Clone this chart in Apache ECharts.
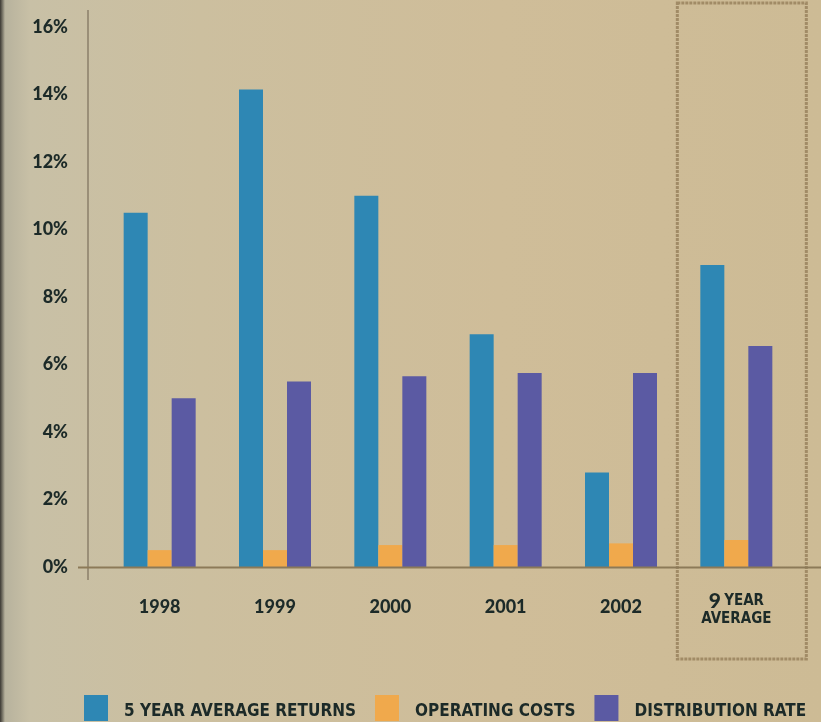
<!DOCTYPE html>
<html><head><meta charset="utf-8">
<script src="https://cdn.jsdelivr.net/npm/echarts@6/dist/echarts.min.js"></script>
<style>
html,body{margin:0;padding:0;width:821px;height:722px;overflow:hidden;
background:linear-gradient(90deg,#3a3832 0px,#b7b29d 5px,#c8c0a6 30px,#ccbf9f 200px,#cfbd99 500px,#cdbb95 821px);}
#c{width:821px;height:722px;}
</style></head><body>
<div id="c"></div>
<script>
const categories = ['1998','1999','2000','2001','2002','9 YEAR AVERAGE'];
const fiveYearReturns = [10.5, 14.15, 11.0, 6.9, 2.8, 8.95];
const operatingCosts = [0.5, 0.5, 0.65, 0.65, 0.7, 0.8];
const distributionRate = [5.0, 5.5, 5.65, 5.75, 5.75, 6.55];
const yTicks = [0,2,4,6,8,10,12,14,16];

const txt = '#1c2a28';
const narrow = '"DejaVu Sans Condensed", "Liberation Sans", sans-serif';
const chart = echarts.init(document.getElementById('c'), null, {renderer:'canvas'});
const barW = 24;
chart.setOption({
  animation:false,
  backgroundColor:'transparent',
  grid:{left:102,right:27,top:27,bottom:155},
  legend:{
    left:84, top:695, padding:0, itemGap:19, itemWidth:24, itemHeight:26,
    icon:'rect',
    formatter:'{t|{name}}',
    textStyle:{color:txt,fontFamily:narrow,fontWeight:'bold',fontSize:17,
      rich:{t:{color:txt,fontFamily:narrow,fontWeight:'bold',fontSize:17,lineHeight:25,verticalAlign:'bottom',padding:[0,0,0,11]}}},
    data:['5 YEAR AVERAGE RETURNS','OPERATING COSTS','DISTRIBUTION RATE']
  },
  xAxis:{
    type:'category', data:categories,
    axisLine:{show:false}, axisTick:{show:false},
    axisLabel:{
      interval:0, margin:25, color:txt,
      formatter:function(v){ return v==='9 YEAR AVERAGE' ? '{n|9} {a|YEAR}\n{a|AVERAGE}' : '{y|' + v + '}'; },
      rich:{
        y:{fontFamily:'Lato',fontWeight:900,fontSize:18,lineHeight:30,color:txt},
        n:{fontFamily:'Lato',fontWeight:900,fontSize:21,lineHeight:18,color:txt},
        a:{fontFamily:narrow,fontWeight:'bold',fontSize:15,lineHeight:18,color:txt,align:'center'}
      }
    }
  },
  yAxis:{
    type:'value', min:yTicks[0], max:yTicks[yTicks.length-1], interval:2,
    axisLine:{show:false}, axisTick:{show:false}, splitLine:{show:false},
    axisLabel:{margin:34,color:txt,fontFamily:'Lato',fontWeight:900,fontSize:18,formatter:'{value}%'}
  },
  series:[
    {name:'5 YEAR AVERAGE RETURNS',type:'bar',data:fiveYearReturns,barWidth:barW,barGap:'0%',
     itemStyle:{color:'#2e87b4'}},
    {name:'OPERATING COSTS',type:'bar',data:operatingCosts,barWidth:barW,barGap:'0%',
     itemStyle:{color:'#f0a94c'}},
    {name:'DISTRIBUTION RATE',type:'bar',data:distributionRate,barWidth:barW,barGap:'0%',
     itemStyle:{color:'#5b5aa3'}}
  ]
});
const y0 = chart.convertToPixel({yAxisIndex:0}, 0);
const xLast = chart.convertToPixel({xAxisIndex:0}, categories[categories.length-1]);
chart.setOption({
  graphic:[
    {type:'line',shape:{x1:88,y1:10,x2:88,y2:y0+13},style:{stroke:'#9a8f78',lineWidth:2},z:1},
    {type:'line',shape:{x1:78,y1:y0+0.5,x2:821,y2:y0+0.5},style:{stroke:'#8c7a58',lineWidth:2},z:10},
    {type:'rect',shape:{x:xLast-59,y:3,width:129,height:656},
     style:{fill:'none',stroke:'#a18b66',lineWidth:3,lineDash:[3,1]},z:0}
  ]
});
</script>
</body></html>
